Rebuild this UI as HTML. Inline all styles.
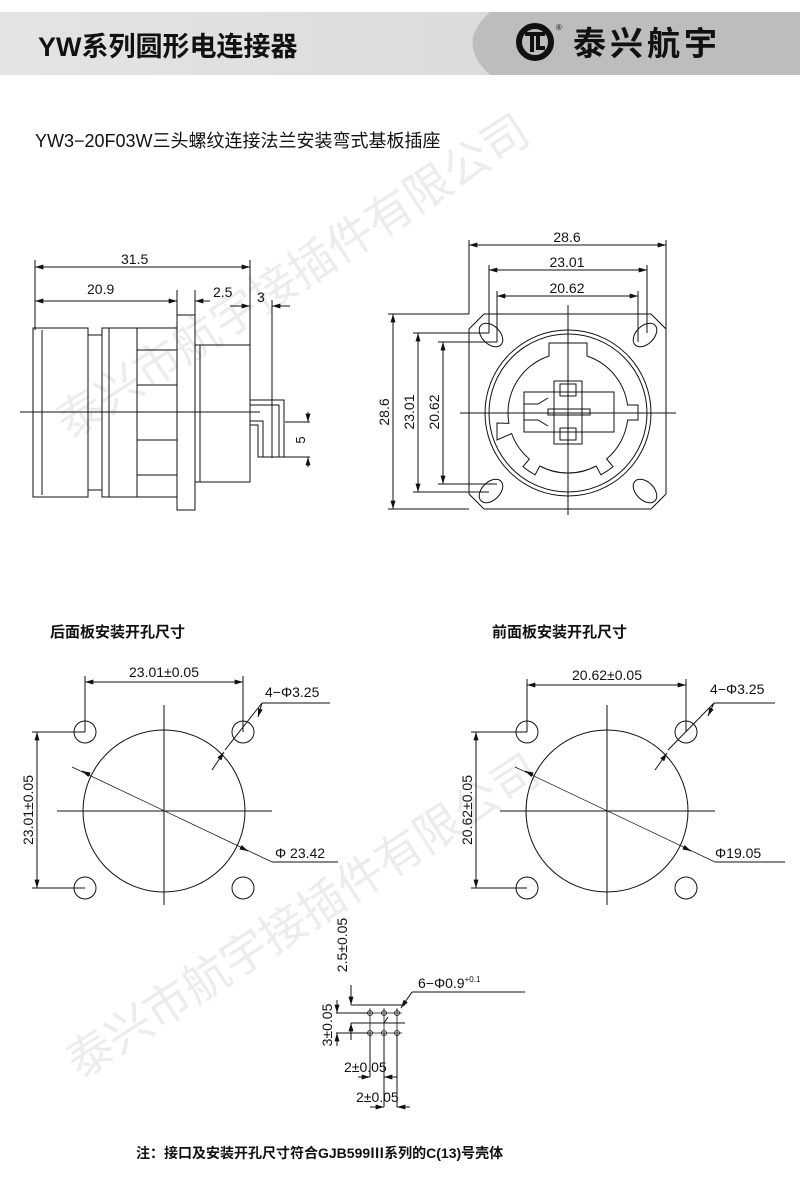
<!DOCTYPE html>
<html><head><meta charset="utf-8"><style>
html,body{margin:0;padding:0;background:#fff}
svg{display:block}
text{font-family:"Liberation Sans","Noto Sans CJK SC",sans-serif;fill:#111}
</style></head><body>
<svg width="800" height="1189" viewBox="0 0 800 1189" xmlns="http://www.w3.org/2000/svg">
<defs>
<linearGradient id="g1" x1="0" x2="1"><stop offset="0" stop-color="#e4e4e4"/><stop offset="1" stop-color="#d6d6d6"/></linearGradient>
<marker id="a" viewBox="0 0 10 6" refX="10" refY="3" markerWidth="10" markerHeight="5" orient="auto-start-reverse" markerUnits="userSpaceOnUse"><path d="M0,0 L10,3 L0,6 z" fill="#111"/></marker>
</defs>
<!-- header -->
<rect x="0" y="12" width="800" height="63" fill="url(#g1)"/>
<path d="M490,12 H800 V75 H490 Q455,43 490,12 z" fill="#bdbdbd"/>
<text x="38" y="56" font-size="27" font-weight="bold" fill="#222">YW系列圆形电连接器</text>
<circle cx="535" cy="42" r="16" fill="none" stroke="#111" stroke-width="6"/>
<path d="M525,34 H545 M532,34 V52 M538,34 V48 H545" stroke="#111" stroke-width="4" fill="none"/>
<text x="556" y="30" font-size="8">®</text>
<text x="573" y="55" font-size="33" font-weight="bold" letter-spacing="4">泰兴航宇</text>
<text x="35" y="147" font-size="18">YW3−20F03W三头螺纹连接法兰安装弯式基板插座</text>

<!-- watermark -->
<g opacity="0.08" font-size="46" font-family="Liberation Serif,'Noto Serif CJK SC',serif">
<text x="70" y="440" transform="rotate(-33 70 440)" fill="#555">泰兴市航宇接插件有限公司</text>
<text x="80" y="1080" transform="rotate(-33 80 1080)" fill="#555">泰兴市航宇接插件有限公司</text>
</g>

<g stroke="#111" fill="none" stroke-width="1">
<!-- side view -->
<line x1="35" y1="260" x2="35" y2="330"/><line x1="250" y1="260" x2="250" y2="345"/>
<line x1="35" y1="267" x2="250" y2="267" marker-start="url(#a)" marker-end="url(#a)"/>
<line x1="35" y1="301" x2="177" y2="301" marker-start="url(#a)" marker-end="url(#a)"/>
<line x1="177" y1="290" x2="177" y2="315"/><line x1="195" y1="290" x2="195" y2="315"/>
<line x1="195" y1="301" x2="210" y2="301" marker-start="url(#a)"/>
<line x1="230" y1="306" x2="250" y2="306" marker-end="url(#a)"/>
<line x1="272" y1="306" x2="290" y2="306" marker-start="url(#a)"/>
<line x1="272" y1="300" x2="272" y2="458"/>
<rect x="177" y="315" width="18" height="195"/>
<rect x="33" y="328" width="55" height="169"/>
<line x1="42" y1="330" x2="42" y2="495"/>
<rect x="88" y="335" width="14" height="155"/>
<rect x="102" y="328" width="7" height="169"/>
<rect x="109" y="328" width="68" height="169"/>
<line x1="137" y1="328" x2="137" y2="497"/>
<rect x="137" y="350" width="40" height="35"/>
<rect x="137" y="440" width="40" height="35"/>
<rect x="200" y="345" width="50" height="137"/>
<line x1="195" y1="345" x2="200" y2="345"/><line x1="195" y1="482" x2="200" y2="482"/>
<path d="M250,400 H284 V457 H279 V405 H250"/>
<path d="M250,421 H263 V457 H258 V425 H250"/>
<line x1="20" y1="412" x2="260" y2="412"/>
<line x1="258" y1="457" x2="310" y2="457"/><line x1="285" y1="422" x2="310" y2="422"/>
<line x1="308" y1="412" x2="308" y2="422" marker-end="url(#a)"/>
<line x1="308" y1="467" x2="308" y2="457" marker-end="url(#a)"/>

<!-- front view -->
<path d="M484,314 H651 L666,329 V494 L651,509 H484 L469,494 V329 z"/>
<circle cx="568" cy="413" r="83"/><circle cx="568" cy="413" r="79"/>
<line x1="469" y1="240" x2="469" y2="314"/><line x1="666" y1="240" x2="666" y2="330"/>
<line x1="469" y1="245" x2="666" y2="245" marker-start="url(#a)" marker-end="url(#a)"/>
<line x1="489" y1="265" x2="489" y2="333"/><line x1="647" y1="265" x2="647" y2="333"/>
<line x1="489" y1="270" x2="647" y2="270" marker-start="url(#a)" marker-end="url(#a)"/>
<line x1="497" y1="291" x2="497" y2="342"/><line x1="638" y1="291" x2="638" y2="342"/>
<line x1="497" y1="296" x2="638" y2="296" marker-start="url(#a)" marker-end="url(#a)"/>
<line x1="388" y1="314" x2="469" y2="314"/><line x1="388" y1="509" x2="469" y2="509"/>
<line x1="393" y1="314" x2="393" y2="509" marker-start="url(#a)" marker-end="url(#a)"/>
<line x1="413" y1="333" x2="489" y2="333"/><line x1="413" y1="492" x2="489" y2="492"/>
<line x1="418" y1="333" x2="418" y2="492" marker-start="url(#a)" marker-end="url(#a)"/>
<line x1="438" y1="342" x2="497" y2="342"/><line x1="438" y1="484" x2="497" y2="484"/>
<line x1="443" y1="342" x2="443" y2="484" marker-start="url(#a)" marker-end="url(#a)"/>
<ellipse cx="491" cy="335" rx="14" ry="9" transform="rotate(45 491 335)"/>
<ellipse cx="645" cy="335" rx="14" ry="9" transform="rotate(-45 645 335)"/>
<ellipse cx="491" cy="491" rx="14" ry="9" transform="rotate(-45 491 491)"/>
<ellipse cx="645" cy="491" rx="14" ry="9" transform="rotate(45 645 491)"/>
<path d="M549,356 V343 H587 V356 A60,60 0 0 1 627.5,405 H638 V420 H627.6 A60,60 0 0 1 606.6,459 L613,466.6 A70,70 0 0 1 600.9,474.8 L596.2,466 A60,60 0 0 1 539.8,466 L535.1,474.8 A70,70 0 0 1 523,466.6 L529.4,459 A60,60 0 0 1 511.6,433.5 L497,440 V423 L508.9,423.4 A60,60 0 0 1 549,356 z"/>
<rect x="524" y="392" width="90" height="40"/>
<rect x="554" y="381" width="28" height="63"/>
<rect x="560" y="384" width="16" height="12"/><rect x="560" y="428" width="16" height="12"/>
<rect x="548" y="409" width="42" height="6"/>
<path d="M524,404 L538,404 L548,398 M524,420 L538,420 L548,426"/>
<line x1="568" y1="305" x2="568" y2="515"/>
<line x1="460" y1="413" x2="676" y2="413"/>

<!-- rear panel cutout -->
<circle cx="85" cy="732" r="11"/><circle cx="243" cy="732" r="11"/>
<circle cx="85" cy="888" r="11"/><circle cx="243" cy="888" r="11"/>
<circle cx="164" cy="811" r="81"/>
<line x1="57" y1="811" x2="272" y2="811"/><line x1="164" y1="705" x2="164" y2="905"/>
<line x1="85" y1="676" x2="85" y2="732"/><line x1="243" y1="676" x2="243" y2="732"/>
<line x1="85" y1="682" x2="243" y2="682" marker-start="url(#a)" marker-end="url(#a)"/>
<line x1="32" y1="732" x2="85" y2="732"/><line x1="32" y1="888" x2="85" y2="888"/>
<line x1="37" y1="732" x2="37" y2="888" marker-start="url(#a)" marker-end="url(#a)"/>
<line x1="72" y1="767" x2="272" y2="862" stroke-width="0.7"/>
<line x1="272" y1="862" x2="338" y2="862"/>
<line x1="90" y1="775" x2="82" y2="771" marker-end="url(#a)"/>
<line x1="240" y1="847" x2="248" y2="851" marker-end="url(#a)"/>
<line x1="225" y1="750" x2="262" y2="703"/><line x1="262" y1="703" x2="330" y2="703"/>
<line x1="262" y1="703" x2="258" y2="717" marker-end="url(#a)"/>
<line x1="212" y1="770" x2="224" y2="752" marker-end="url(#a)"/>

<!-- front panel cutout -->
<circle cx="527" cy="732" r="11"/><circle cx="686" cy="732" r="11"/>
<circle cx="527" cy="888" r="11"/><circle cx="686" cy="888" r="11"/>
<circle cx="607" cy="811" r="81"/>
<line x1="500" y1="811" x2="715" y2="811"/><line x1="607" y1="705" x2="607" y2="905"/>
<line x1="527" y1="679" x2="527" y2="732"/><line x1="686" y1="679" x2="686" y2="732"/>
<line x1="527" y1="685" x2="686" y2="685" marker-start="url(#a)" marker-end="url(#a)"/>
<line x1="471" y1="732" x2="527" y2="732"/><line x1="471" y1="888" x2="527" y2="888"/>
<line x1="476" y1="732" x2="476" y2="888" marker-start="url(#a)" marker-end="url(#a)"/>
<line x1="515" y1="767" x2="715" y2="862" stroke-width="0.7"/>
<line x1="715" y1="862" x2="785" y2="862"/>
<line x1="533" y1="775" x2="525" y2="771" marker-end="url(#a)"/>
<line x1="683" y1="847" x2="691" y2="851" marker-end="url(#a)"/>
<line x1="668" y1="750" x2="714" y2="703"/><line x1="714" y1="703" x2="775" y2="703"/>
<line x1="714" y1="703" x2="708" y2="716" marker-end="url(#a)"/>
<line x1="655" y1="770" x2="667" y2="753" marker-end="url(#a)"/>

<!-- pin diagram -->
<g stroke-width="0.8">
<circle cx="370" cy="1013" r="2.5"/><circle cx="384" cy="1013" r="2.5"/><circle cx="397" cy="1013" r="2.5"/>
<circle cx="370" cy="1033" r="2.5"/><circle cx="384" cy="1033" r="2.5"/><circle cx="397" cy="1033" r="2.5"/>
<line x1="365" y1="1013" x2="402" y2="1013"/><line x1="365" y1="1033" x2="402" y2="1033"/>
<line x1="370" y1="1008" x2="370" y2="1038"/><line x1="384" y1="1008" x2="384" y2="1038"/><line x1="397" y1="1008" x2="397" y2="1038"/>
</g>
<line x1="351" y1="1005" x2="405" y2="1005"/>
<line x1="351" y1="1023" x2="405" y2="1023"/>
<line x1="351" y1="985" x2="351" y2="1005" marker-end="url(#a)"/>
<line x1="351" y1="1040" x2="351" y2="1023" marker-end="url(#a)"/>
<line x1="336" y1="1013" x2="370" y2="1013"/><line x1="336" y1="1033" x2="370" y2="1033"/>
<line x1="337" y1="1000" x2="337" y2="1013" marker-end="url(#a)"/>
<line x1="337" y1="1046" x2="337" y2="1033" marker-end="url(#a)"/>
<line x1="370" y1="1033" x2="370" y2="1077"/><line x1="384" y1="1033" x2="384" y2="1107"/><line x1="397" y1="1033" x2="397" y2="1107"/>
<line x1="358" y1="1077" x2="370" y2="1077" marker-end="url(#a)"/>
<line x1="397" y1="1077" x2="384" y2="1077" marker-end="url(#a)"/>
<line x1="370" y1="1107" x2="384" y2="1107" marker-end="url(#a)"/>
<line x1="410" y1="1107" x2="397" y2="1107" marker-end="url(#a)"/>
<line x1="412" y1="992" x2="525" y2="992"/>
<line x1="412" y1="992" x2="401" y2="1008" marker-end="url(#a)"/>
<line x1="384" y1="1023" x2="388" y2="1017"/>
</g>

<g font-size="14">
<text x="121" y="264">31.5</text>
<text x="87" y="294">20.9</text>
<text x="213" y="297">2.5</text>
<text x="257" y="302">3</text>
<text x="305" y="440" transform="rotate(-90 305 440)" font-size="13" text-anchor="middle">5</text>
<text x="567" y="242" text-anchor="middle">28.6</text>
<text x="567" y="267" text-anchor="middle">23.01</text>
<text x="567" y="293" text-anchor="middle">20.62</text>
<text x="389" y="412" transform="rotate(-90 389 412)" text-anchor="middle">28.6</text>
<text x="414" y="412" transform="rotate(-90 414 412)" text-anchor="middle">23.01</text>
<text x="439" y="412" transform="rotate(-90 439 412)" text-anchor="middle">20.62</text>
<text x="164" y="677" text-anchor="middle">23.01±0.05</text>
<text x="33" y="810" transform="rotate(-90 33 810)" text-anchor="middle">23.01±0.05</text>
<text x="265" y="697">4−Φ3.25</text>
<text x="275" y="858">Φ 23.42</text>
<text x="607" y="680" text-anchor="middle">20.62±0.05</text>
<text x="472" y="810" transform="rotate(-90 472 810)" text-anchor="middle">20.62±0.05</text>
<text x="710" y="694">4−Φ3.25</text>
<text x="715" y="858">Φ19.05</text>
<text x="347" y="945" transform="rotate(-90 347 945)" text-anchor="middle">2.5±0.05</text>
<text x="332" y="1025" transform="rotate(-90 332 1025)" text-anchor="middle">3±0.05</text>
<text x="418" y="988">6−Φ0.9<tspan font-size="8" dy="-6">+0.1</tspan></text>
<text x="344" y="1072">2±0.05</text>
<text x="356" y="1102">2±0.05</text>
</g>
<text x="50" y="637" font-size="15" font-weight="bold">后面板安装开孔尺寸</text>
<text x="492" y="637" font-size="15" font-weight="bold">前面板安装开孔尺寸</text>
<text x="136" y="1158" font-size="14" font-weight="bold">注：接口及安装开孔尺寸符合GJB599Ⅲ系列的C(13)号壳体</text>
</svg>
</body></html>
